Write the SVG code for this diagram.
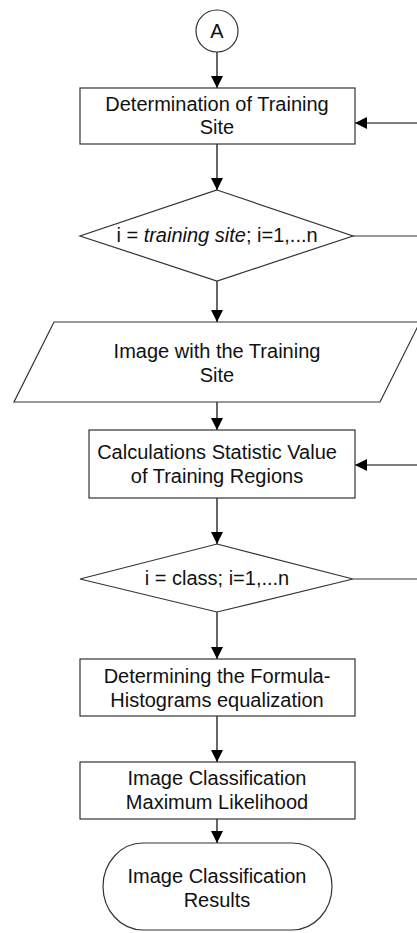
<svg xmlns="http://www.w3.org/2000/svg" width="417" height="933" viewBox="0 0 417 933">
<style>
.shape{fill:#fff;stroke:#333;stroke-width:1.2}
.t{font-family:"Liberation Sans",Arial,sans-serif;font-size:20px;fill:#111;text-anchor:middle}
.c{fill:none;stroke:#000;stroke-width:1.2}
.g{fill:none;stroke:#777;stroke-width:1.4}
</style>
<defs>
<marker id="ah" markerUnits="userSpaceOnUse" markerWidth="12" markerHeight="12" refX="12" refY="6" orient="auto">
<path d="M0,0 L12,6 L0,12 Z" fill="#000"/>
</marker>
</defs>
<rect width="417" height="933" fill="#fff"/>
<g id="connectors">
<line class="c" x1="217" y1="52" x2="217" y2="88" marker-end="url(#ah)"/>
<line class="c" x1="217" y1="144" x2="217" y2="190" marker-end="url(#ah)"/>
<line class="c" x1="217" y1="281" x2="217" y2="322" marker-end="url(#ah)"/>
<line class="c" x1="217" y1="402" x2="217" y2="430" marker-end="url(#ah)"/>
<line class="c" x1="217" y1="498" x2="217" y2="544" marker-end="url(#ah)"/>
<line class="c" x1="217" y1="612" x2="217" y2="659" marker-end="url(#ah)"/>
<line class="c" x1="217" y1="716" x2="217" y2="762" marker-end="url(#ah)"/>
<line class="c" x1="217" y1="819" x2="217" y2="843" marker-end="url(#ah)"/>
<line class="c" x1="417" y1="123" x2="355" y2="123" marker-end="url(#ah)"/>
<line class="c" x1="417" y1="465" x2="355" y2="465" marker-end="url(#ah)"/>
<line class="g" x1="353" y1="236" x2="417" y2="236"/>
<line class="g" x1="353" y1="579" x2="417" y2="579"/>
</g>
<g id="connectorA">
<circle class="shape" cx="217" cy="31" r="21"/>
<text class="t" x="217" y="37.5" font-size="21">A</text>
</g>
<g id="box1">
<rect class="shape" x="80" y="88" width="275" height="56"/>
<text class="t" x="217" y="111">Determination of Training</text>
<text class="t" x="217" y="134">Site</text>
</g>
<g id="decision1">
<polygon class="shape" points="217,190 353,236 217,281 80,236"/>
<text class="t" x="217" y="242">i = <tspan font-style="italic">training site</tspan>; i=1,...n</text>
</g>
<g id="io1">
<polygon class="shape" points="54,322 420,322 380,402 14,402"/>
<text class="t" x="217" y="358">Image with the Training</text>
<text class="t" x="217" y="381.5">Site</text>
</g>
<g id="box2">
<rect class="shape" x="89" y="430" width="266" height="68"/>
<text class="t" x="217" y="459">Calculations Statistic Value</text>
<text class="t" x="217" y="482.5">of Training Regions</text>
</g>
<g id="decision2">
<polygon class="shape" points="217,544 353,579 217,612 80,579"/>
<text class="t" x="217" y="584.5">i = class; i=1,...n</text>
</g>
<g id="box3">
<rect class="shape" x="80" y="659" width="275" height="57"/>
<text class="t" x="217" y="682.5">Determining the Formula-</text>
<text class="t" x="217" y="706.5">Histograms equalization</text>
</g>
<g id="box4">
<rect class="shape" x="80" y="762" width="275" height="57"/>
<text class="t" x="217" y="785">Image Classification</text>
<text class="t" x="217" y="809">Maximum Likelihood</text>
</g>
<g id="terminal">
<path class="shape" d="M143,843 H292 A40,43.5 0 0 1 292,930 H143 A40,43.5 0 0 1 143,843 Z"/>
<text class="t" x="217" y="882.5">Image Classification</text>
<text class="t" x="217" y="906.5">Results</text>
</g>
</svg>
